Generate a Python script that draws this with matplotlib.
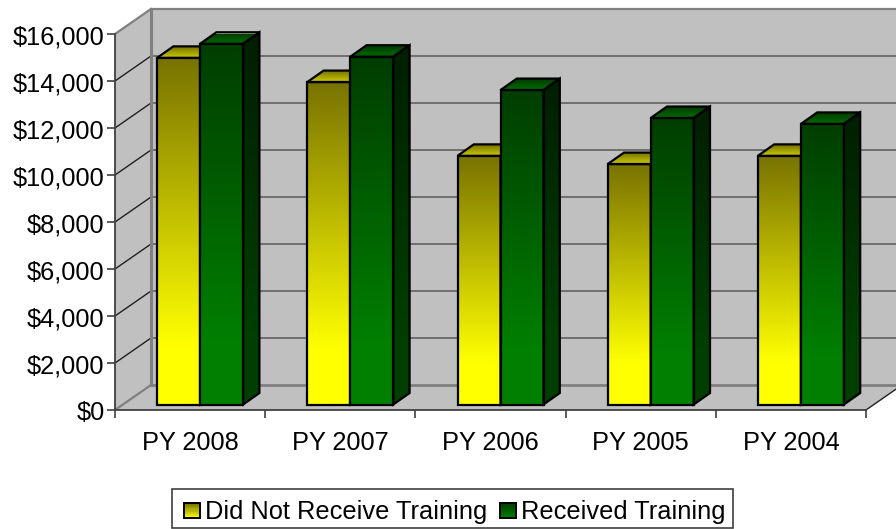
import numpy as np
from matplotlib import pyplot as plt
from matplotlib.legend_handler import HandlerBase
from matplotlib.patches import Patch, Polygon, Rectangle
from matplotlib.ticker import FuncFormatter
from matplotlib.transforms import ScaledTranslation

plt.rcParams['font.family'] = ['Liberation Sans', 'DejaVu Sans']

# Values
categories = ['PY 2008', 'PY 2007', 'PY 2006', 'PY 2005', 'PY 2004']
no_training = [14750, 13720, 10580, 10230, 10580]
training = [15350, 14800, 13380, 12190, 11940]
series_names = ['Did Not Receive Training', 'Received Training']
y_ticks = [0, 2000, 4000, 6000, 8000, 10000, 12000, 14000, 16000]

W, H = 896, 529
LEFT, RIGHT, TOP, BOTTOM = 115, 866, 34, 410
PX_X = len(categories) / (RIGHT - LEFT)
PX_Y = 16000 / (BOTTOM - TOP)

# Fake 3D offsets, pixels converted to data units
wall_dx, wall_dy = 36 * PX_X, 25 * PX_Y
bar_dx, bar_dy = 10 * PX_X, 5.5 * PX_Y
deep_dx, deep_dy = 16.3 * PX_X, 11.5 * PX_Y
bar_w = 43 * PX_X


def fade(bottom, top, hold=0.0, n=128):
    # colour ramp listed from bottom to top, solid for the first part
    t = np.clip((np.linspace(0, 1, n) - hold) / (1 - hold), 0, 1)
    bottom, top = np.array(bottom), np.array(top)
    return bottom + (top - bottom) * t[:, None]


def gradient_poly(ax, pts, ramp, zorder):
    # vertical ramp, clipped to a polygon, with black outline
    pts = np.array(pts)
    im = ax.imshow(ramp[:, None, :], origin='lower', aspect='auto', interpolation='bilinear',
                   extent=(pts[:, 0].min(), pts[:, 0].max(), pts[:, 1].min(), pts[:, 1].max()),
                   zorder=zorder, clip_on=True)
    outline = Polygon(pts, closed=True, facecolor='none', edgecolor='black', linewidth=1.6,
                      joinstyle='miter', zorder=zorder + 0.1, clip_on=False)
    ax.add_patch(outline)
    clip = Polygon(pts, closed=True, transform=ax.transData)
    im.set_clip_path(clip)


def draw_bar(ax, x0, value, front, side, top, zorder):
    x1 = x0 + bar_w
    y0 = bar_dy
    y1 = bar_dy + value
    gradient_poly(ax, [(x0, y0), (x1, y0), (x1, y1), (x0, y1)], front, zorder)
    gradient_poly(ax, [(x1, y0), (x1 + deep_dx, y0 + deep_dy), (x1 + deep_dx, y1 + deep_dy), (x1, y1)],
                  side, zorder)
    gradient_poly(ax, [(x0, y1), (x1, y1), (x1 + deep_dx, y1 + deep_dy), (x0 + deep_dx, y1 + deep_dy)],
                  top, zorder)


class GradientHandler(HandlerBase):
    def create_artists(self, legend, orig_handle, xdescent, ydescent, width, height, fontsize, trans):
        ramp = orig_handle.ramp
        # swatch is 16 px wide, sits a little right of and below the handle box
        x0, w = -xdescent + 5 * 0.72, 16 * 0.72
        y0 = -ydescent - 4 * 0.72
        strips = []
        for i, c in enumerate(ramp):
            strips.append(Rectangle((x0, y0 + height * i / len(ramp)), w,
                                    height / len(ramp) + 0.3, facecolor=c, edgecolor='none',
                                    transform=trans))
        strips.append(Rectangle((x0, y0), w, height, facecolor='none',
                                edgecolor='black', linewidth=1.4, transform=trans))
        return strips


yellow_front = fade((1, 1, 0), (0.47, 0.45, 0), hold=0.17)
yellow_top = fade((0.8, 0.8, 0), (0.45, 0.43, 0))
green_front = fade((0, 0.5, 0), (0, 0.24, 0), hold=0.17)
green_side = fade((0, 0.25, 0), (0, 0.12, 0), hold=0.17)
green_top = fade((0, 0.42, 0), (0, 0.22, 0))

fig = plt.figure(figsize=(W / 100, H / 100), dpi=100, facecolor='white')
ax = fig.add_axes([LEFT / W, 1 - BOTTOM / H, (RIGHT - LEFT) / W, (BOTTOM - TOP) / H])
ax.patch.set_alpha(0)

# walls and floor
wall_right = len(categories) + wall_dx
ax.add_patch(Polygon([(wall_dx, wall_dy), (wall_right, wall_dy), (wall_right, 16000 + wall_dy),
                      (wall_dx, 16000 + wall_dy)], facecolor='#C0C0C0', edgecolor='none',
                     zorder=1, clip_on=False))
ax.add_patch(Polygon([(0, 0), (wall_dx, wall_dy), (wall_dx, 16000 + wall_dy), (0, 16000)],
                     facecolor='#C0C0C0', edgecolor='none', zorder=1, clip_on=False))
ax.add_patch(Polygon([(0, 0), (len(categories), 0), (wall_right, wall_dy), (wall_dx, wall_dy)],
                     facecolor='#C0C0C0', edgecolor='none', zorder=1, clip_on=False))

for v in y_ticks:
    edge = v in (0, 16000)
    col = '#808080' if edge else '#202020'
    ax.plot([0, wall_dx], [v, v + wall_dy], color=col, lw=1.6 if edge else 1, zorder=2, clip_on=False)
    ax.plot([wall_dx, wall_right], [v + wall_dy, v + wall_dy], color='#808080' if edge else '#5A5A5A',
            lw=2 if v == 0 else (1.6 if edge else 1.1), zorder=2, clip_on=False)
ax.plot([wall_dx, wall_dx], [wall_dy, 16000 + wall_dy], color='#808080', lw=2.2, zorder=2, clip_on=False)
ax.plot([len(categories), wall_right], [0, wall_dy], color='#202020', lw=1, zorder=2, clip_on=False)

for i in range(len(categories)):
    x_mid = i + 0.5 + bar_dx
    draw_bar(ax, x_mid - bar_w, no_training[i], yellow_front, yellow_front, yellow_top, 3 + i)
    draw_bar(ax, x_mid, training[i], green_front, green_side, green_top, 3.3 + i)

ax.set_xlim(0, len(categories))
ax.set_ylim(0, 16000)
ax.set_xticks(np.arange(len(categories) + 1))
ax.set_xticklabels([])
ax.set_xticks(np.arange(len(categories)) + 0.5, minor=True)
ax.set_xticklabels(categories, minor=True, fontsize=18.3, color='black')
ax.tick_params(axis='x', which='minor', length=0, pad=15)
ax.tick_params(axis='x', which='major', length=6, width=1.2, color='#404040')
ax.set_yticks(y_ticks)
ax.yaxis.set_major_formatter(FuncFormatter(lambda v, p: f'${v:,.0f}'))
ax.tick_params(axis='y', length=6, width=1.2, color='#404040', labelsize=18.3, pad=1.5)
down = ScaledTranslation(0, -1 / 100, fig.dpi_scale_trans)
for lbl in ax.get_yticklabels():
    lbl.set_transform(lbl.get_transform() + down)
for s in ('top', 'right'):
    ax.spines[s].set_visible(False)
for s in ('left', 'bottom'):
    ax.spines[s].set_color('#404040')
    ax.spines[s].set_linewidth(1.3)
    ax.spines[s].set_zorder(2.5)

h1 = Patch(label=series_names[0])
h1.ramp = fade((1, 1, 0), (0.45, 0.43, 0), n=14)
h2 = Patch(label=series_names[1])
h2.ramp = fade((0, 0.5, 0), (0, 0.24, 0), n=14)
leg = fig.legend(handles=[h1, h2], handler_map={Patch: GradientHandler()}, ncol=2,
                 loc='center', bbox_to_anchor=(452.5 / W, 1 - 508.5 / H), fontsize=18.3,
                 fancybox=False, framealpha=1, edgecolor='#404040', handlelength=1.02,
                 handleheight=0.58, handletextpad=0, columnspacing=0.3, borderpad=0.3,
                 borderaxespad=0)
leg.get_frame().set_linewidth(1.2)
down3 = ScaledTranslation(0, -3 / 100, fig.dpi_scale_trans)
for t in leg.get_texts():
    t.set_transform(t.get_transform() + down3)

fig.savefig('out.png', dpi=100)
plt.close()
